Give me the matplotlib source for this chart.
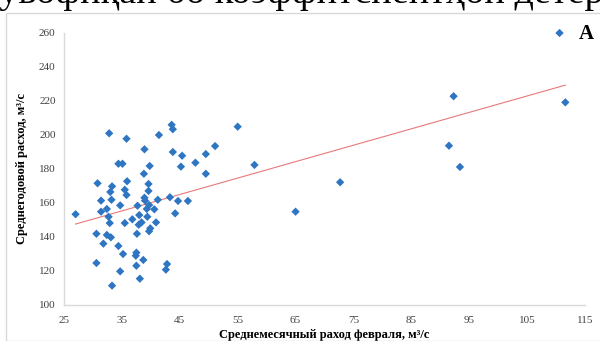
import numpy as np
import matplotlib
matplotlib.use("Agg")
import matplotlib.pyplot as plt

# Data
feb_flow = [32.8, 35.8, 41.4, 43.6, 43.8, 38.9, 43.8, 45.4, 49.5, 51.1,
            34.4, 35.1, 39.8, 45.2, 47.7, 49.5, 38.8, 30.8, 35.9, 33.3,
            39.6, 35.5, 33.0, 39.6, 35.8, 38.9, 31.4, 33.2, 39.0, 41.2,
            43.3, 44.7, 46.4, 34.7, 37.7, 39.7, 32.4, 31.4, 40.6, 39.3,
            27.0, 32.7, 38.0, 39.4, 44.2, 36.8, 32.9, 35.5, 38.4, 37.9,
            40.9, 30.6, 32.4, 33.1, 37.6, 39.9, 39.7, 31.8, 34.4, 35.2,
            37.5, 37.4, 38.7, 30.6, 37.5, 34.7, 42.8, 42.6, 38.1, 33.3,
            55.0, 57.9, 65.0, 72.7, 91.5, 92.3, 93.4, 111.6, 110.6]
annual_flow = [201.0, 197.8, 200.0, 206.0, 203.4, 191.6, 190.0, 187.8, 188.8, 193.5,
               183.1, 183.1, 181.8, 181.4, 183.7, 177.2, 177.2, 171.6, 172.8, 169.8,
               171.2, 167.8, 166.5, 167.1, 164.7, 163.1, 161.4, 161.9, 161.4, 161.9,
               163.4, 161.2, 161.2, 158.6, 158.4, 158.8, 156.5, 154.9, 156.3, 156.5,
               153.4, 151.9, 152.9, 151.9, 153.9, 150.4, 148.2, 148.2, 148.6, 147.2,
               148.6, 141.9, 141.2, 139.8, 141.9, 145.1, 143.4, 136.1, 134.7, 130.0,
               130.8, 129.0, 126.5, 124.7, 123.1, 119.8, 124.1, 120.8, 115.5, 111.4,
               204.9, 182.4, 154.9, 172.2, 193.7, 222.8, 181.2, 219.2, 260.0]
panel_label = "A"
x_ticks = [25, 35, 45, 55, 65, 75, 85, 95, 105, 115]
y_ticks = [100, 120, 140, 160, 180, 200, 220, 240, 260]
x_label = "Среднемесячный раход февраля, м³/с"
y_label = "Среднегодовой расход, м³/с"
top_text = "мувофиқан бо коэффитсиентҳои детерминатсия"

serif = ["Liberation Serif", "DejaVu Serif"]
plt.rcParams["font.family"] = serif

W, H = 600, 341
fig = plt.figure(figsize=(W / 100, H / 100), dpi=100)

# Outer chart border (partly cut off)
fig.patches.append(plt.Rectangle((6 / W, 0), 1, 1 - 13 / H, transform=fig.transFigure,
                                 fill=False, edgecolor="#d9d9d9", linewidth=1.0))

# Document text cut off at the top
fig.text(-25 / W, 1 - 3 / H, top_text, fontsize=27.5, va="baseline", ha="left",
         color="black", family=serif)

ax = fig.add_axes([64 / W, 1 - 305 / H, (585 - 64) / W, (305 - 33) / H])
x = np.array(feb_flow)
y = np.array(annual_flow)
blue = "#2E75C2"
ax.scatter(x, y, marker="D", s=18, color=blue, edgecolors="none", zorder=3,
           clip_on=False)

# Linear trendline
k, b = np.polyfit(x, y, 1)
xs = np.array([x.min(), x.max()])
ax.plot(xs, k * xs + b, color="#E8797A", linewidth=0.8, zorder=2)

ax.set_xlim(25, 115)
ax.set_ylim(100, 260)
ax.set_xticks(x_ticks)
ax.set_yticks(y_ticks)
ax.tick_params(length=0, labelsize=8, colors="#404040")
ax.tick_params(axis="x", pad=8)
ax.tick_params(axis="y", pad=6)
for s in ["top", "right"]:
    ax.spines[s].set_visible(False)
for s in ["left", "bottom"]:
    ax.spines[s].set_color("#d9d9d9")
    ax.spines[s].set_linewidth(1.0)
ax.set_xlabel(x_label, fontsize=9, fontweight="bold", labelpad=3)
ax.set_ylabel(y_label, fontsize=9, fontweight="bold", labelpad=8)

fig.text(579 / W, 1 - 39 / H, panel_label, fontsize=15, fontweight="bold",
         ha="left", va="baseline", family=serif)

fig.savefig("out.png", dpi=100)
